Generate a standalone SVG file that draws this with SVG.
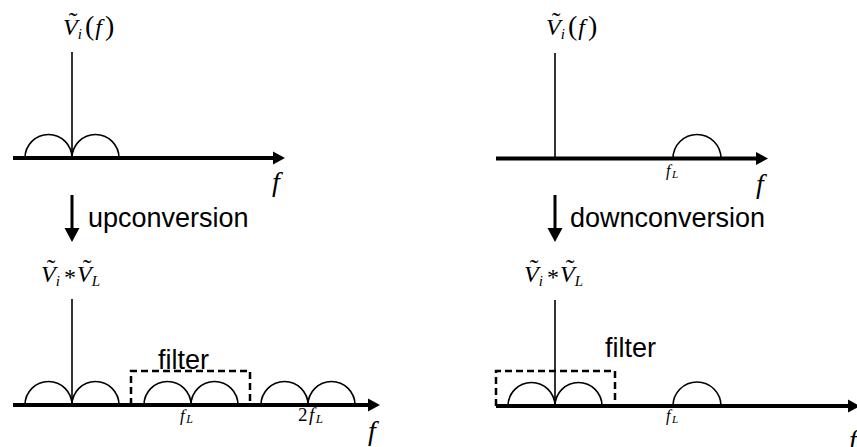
<svg xmlns="http://www.w3.org/2000/svg" width="857" height="447" viewBox="0 0 857 447">
<style>
.axis{stroke:#000;stroke-width:4;fill:none}
.stem{stroke:#000;stroke-width:1.6;fill:none}
.lobe{stroke:#000;stroke-width:1.6;fill:none}
.filt{stroke:#000;stroke-width:2.5;fill:none;stroke-dasharray:7,4}
.conn{stroke:#000;stroke-width:3;fill:none}
.m{font-family:"Liberation Serif","Times New Roman",serif;font-style:italic;fill:#000}
.up{font-style:normal}
.td{font-style:normal;font-size:26px}
.lbl{font-family:"Liberation Sans",Arial,sans-serif;font-size:27px;fill:#000}
</style>
<defs>
<marker id="axArrow" markerUnits="userSpaceOnUse" markerWidth="12" markerHeight="13" refX="0" refY="6.5" orient="auto" overflow="visible">
<path d="M0,0 L12,6.5 L0,13 Z" fill="#000"/>
</marker>
<marker id="dnArrow" markerUnits="userSpaceOnUse" markerWidth="14" markerHeight="15" refX="0" refY="7.5" orient="auto" overflow="visible">
<path d="M0,0 L14,7.5 L0,15 Z" fill="#000"/>
</marker>
</defs>

<g id="plot-top-left">
<line class="axis" x1="13" y1="158" x2="273" y2="158" marker-end="url(#axArrow)"/>
<line class="stem" x1="72" y1="52" x2="72" y2="158"/>
<path class="lobe" d="M25,158 A23.5,23.5 0 0 1 72,158 A23.5,23.5 0 0 1 119,158"/>
<text class="m" x="63" y="35" font-size="24">V<tspan class="td" dx="-9" dy="-5">˜</tspan><tspan font-size="15" dx="0.5" dy="9">i</tspan><tspan class="up" font-size="28" dx="3" dy="-4">(</tspan><tspan dx="1">f</tspan><tspan class="up" font-size="28" dx="3">)</tspan></text>
<text class="m" x="272" y="191" font-size="28">f</text>
</g>

<g id="plot-top-right">
<line class="axis" x1="496" y1="158.5" x2="756" y2="158.5" marker-end="url(#axArrow)"/>
<line class="stem" x1="555" y1="53" x2="555" y2="158.5"/>
<path class="lobe" d="M673,158.5 A24,24 0 0 1 721,158.5"/>
<text class="m" x="546" y="35" font-size="24">V<tspan class="td" dx="-9" dy="-5">˜</tspan><tspan font-size="15" dx="0.5" dy="9">i</tspan><tspan class="up" font-size="28" dx="3" dy="-4">(</tspan><tspan dx="1">f</tspan><tspan class="up" font-size="28" dx="3">)</tspan></text>
<text class="m" x="666" y="176" font-size="16">f<tspan font-size="11" dx="1.5" dy="2">L</tspan></text>
<text class="m" x="756" y="193" font-size="28">f</text>
</g>

<g id="plot-bottom-left">
<line class="axis" x1="13" y1="405" x2="368" y2="405" marker-end="url(#axArrow)"/>
<line class="stem" x1="72" y1="299" x2="72" y2="405"/>
<path class="lobe" d="M25,405 A23.5,23.5 0 0 1 72,405 A23.5,23.5 0 0 1 119,405"/>
<path class="lobe" d="M144,405 A23.5,23.5 0 0 1 191,405 A23.5,23.5 0 0 1 238,405"/>
<path class="lobe" d="M261,405 A23.5,23.5 0 0 1 308,405 A23.5,23.5 0 0 1 355,405"/>
<path class="filt" d="M131,405 V371 H250 V405"/>
<text class="lbl" x="158" y="369">filter</text>
<text class="m" x="41" y="282" font-size="24">V<tspan class="td" dx="-9" dy="-5">˜</tspan><tspan font-size="15" dx="0.5" dy="9">i</tspan><tspan class="up" dx="4" dy="-1">*</tspan><tspan dx="1" dy="-3">V</tspan><tspan class="td" dx="-9" dy="-5">˜</tspan><tspan font-size="15" dx="0.5" dy="9">L</tspan></text>
<text class="m" x="180" y="421" font-size="17">f<tspan font-size="12" dx="1.5" dy="2">L</tspan></text>
<text class="m" x="298" y="421" font-size="19"><tspan class="up">2</tspan><tspan dx="1.5">f</tspan><tspan font-size="13" dx="1.5" dy="2">L</tspan></text>
<text class="m" x="368" y="440" font-size="28">f</text>
</g>

<g id="plot-bottom-right">
<line class="axis" x1="496" y1="406" x2="848" y2="406" marker-end="url(#axArrow)"/>
<line class="stem" x1="555" y1="300" x2="555" y2="406"/>
<path class="lobe" d="M508,406 A23.5,23.5 0 0 1 555,406 A23.5,23.5 0 0 1 602,406"/>
<path class="lobe" d="M673,406 A24,24 0 0 1 721,406"/>
<path class="filt" d="M496,406 V371 H615 V406"/>
<text class="lbl" x="605" y="357">filter</text>
<text class="m" x="524" y="282" font-size="24">V<tspan class="td" dx="-9" dy="-5">˜</tspan><tspan font-size="15" dx="0.5" dy="9">i</tspan><tspan class="up" dx="4" dy="-1">*</tspan><tspan dx="1" dy="-3">V</tspan><tspan class="td" dx="-9" dy="-5">˜</tspan><tspan font-size="15" dx="0.5" dy="9">L</tspan></text>
<text class="m" x="666" y="421" font-size="16">f<tspan font-size="11" dx="1.5" dy="2">L</tspan></text>
<text class="m" x="849" y="449" font-size="28">f</text>
</g>

<g id="connectors">
<line class="conn" x1="72" y1="195" x2="72" y2="228" marker-end="url(#dnArrow)"/>
<text class="lbl" x="88" y="227">upconversion</text>
<line class="conn" x1="555" y1="195" x2="555" y2="228" marker-end="url(#dnArrow)"/>
<text class="lbl" x="570" y="227">downconversion</text>
</g>
</svg>
